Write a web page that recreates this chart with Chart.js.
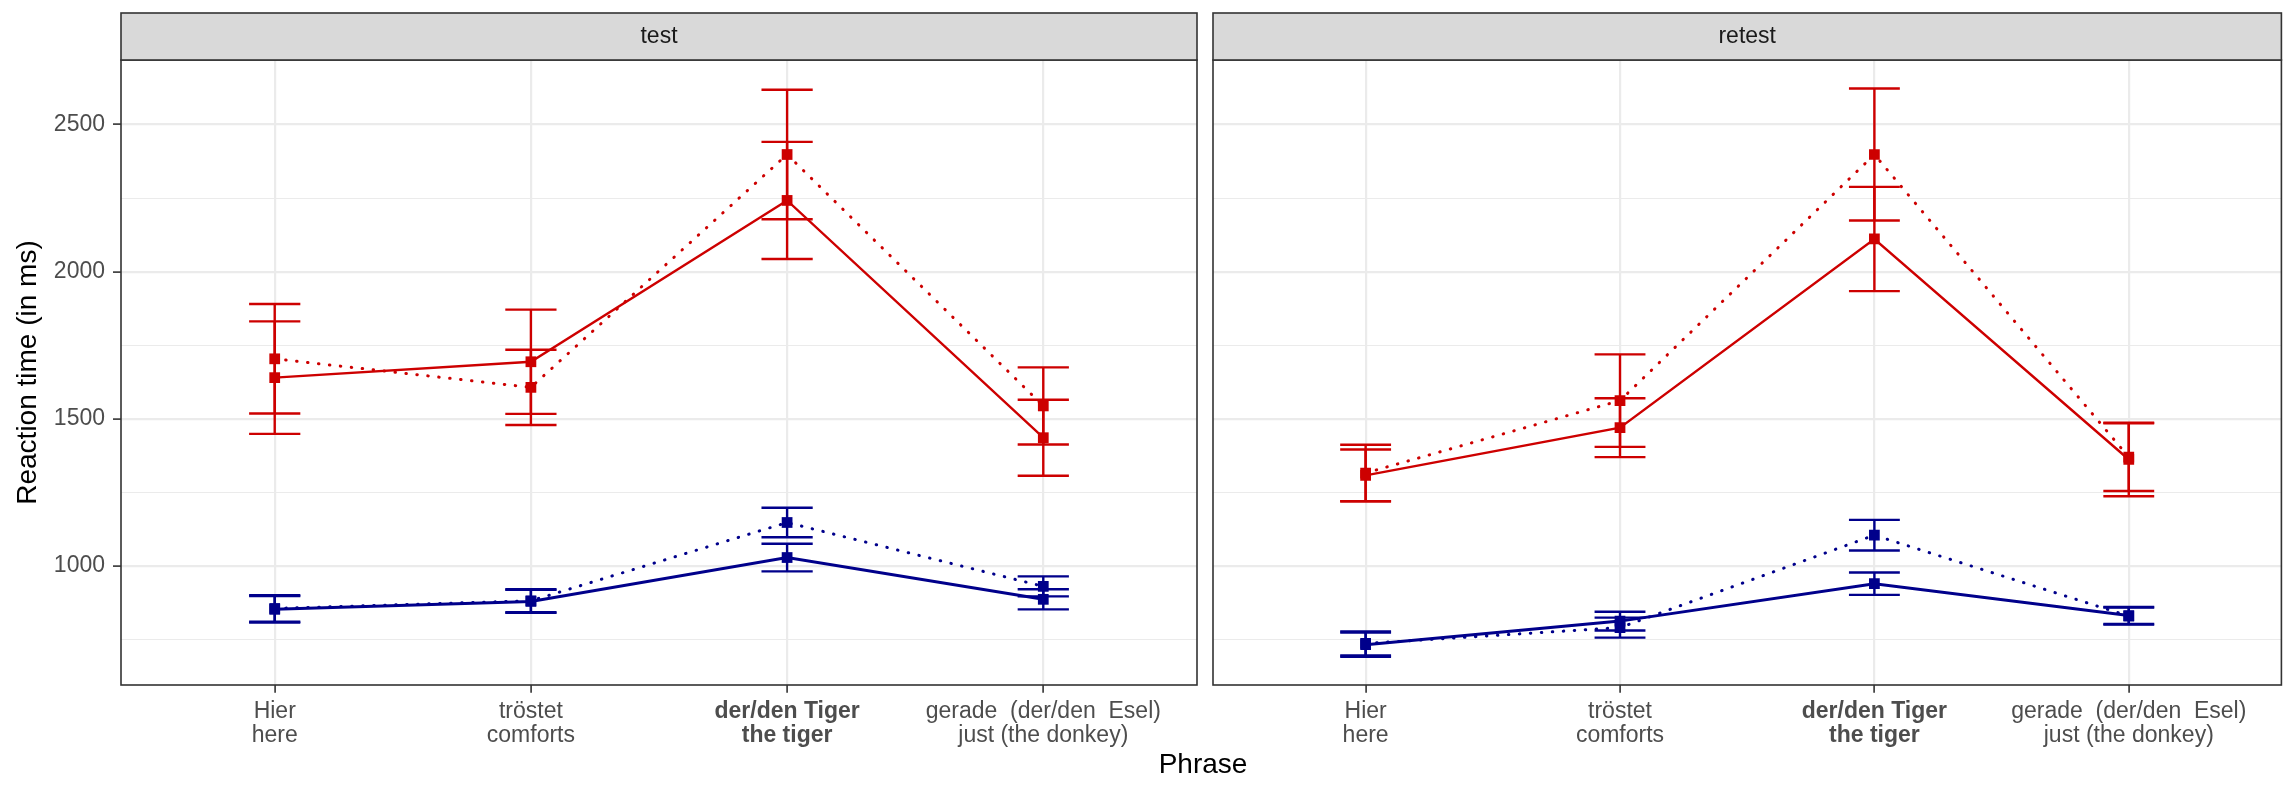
<!DOCTYPE html>
<html>
<head>
<meta charset="utf-8">
<script src="https://cdn.jsdelivr.net/npm/chart.js@4.4.1/dist/chart.umd.min.js"></script>
<style>
  html, body { margin: 0; padding: 0; background: #fff; overflow: hidden; }
  #wrap { position: relative; width: 2285px; height: 786px; overflow: hidden; }
  #wrap canvas { position: absolute; top: 0; }
  #x-title {
    position: absolute; left: 1053px; width: 300px; top: 750px;
    text-align: center; font: 28px 'Liberation Sans', Arial, sans-serif;
    line-height: 28px; color: #000;
  }
</style>
</head>
<body>
<div id="wrap">
  <canvas id="chart-test" width="1205" height="786" style="left:0"></canvas>
  <canvas id="chart-retest" width="1084" height="786" style="left:1205px"></canvas>
  <div id="x-title">Phrase</div>
</div>
<script>
// categories / tick labels
const phraseLabels = [['Hier', 'here'], ['tröstet', 'comforts'], ['der/den Tiger', 'the tiger'], ['gerade  (der/den  Esel)', 'just (the donkey)']];
const phrasePos = [1, 2, 3, 4];
const yTickValues = [750, 1000, 1250, 1500, 1750, 2000, 2250, 2500];
const panelNames = ['test', 'retest'];

// test session: means and error bar half widths (ms)
const testRedSolid = [1640, 1694, 2242, 1436];
const testRedSolidErr = [191, 177, 199, 129];
const testRedDotted = [1704, 1607, 2398, 1544];
const testRedDottedErr = [186, 128, 220, 131];
const testBlueSolid = [853, 880, 1029, 887];
const testBlueSolidErr = [45, 39, 47, 34];
const testBlueDotted = [856, 882, 1148, 931];
const testBlueDottedErr = [45, 39, 50, 34];

// retest session
const retestRedSolid = [1308, 1470, 2111, 1362];
const retestRedSolidErr = [88, 100, 177, 125];
const retestRedDotted = [1316, 1562, 2398, 1370];
const retestRedDottedErr = [96, 157, 224, 115];
const retestBlueSolid = [733, 813, 940, 832];
const retestBlueSolidErr = [41, 32, 38, 29];
const retestBlueDotted = [737, 791, 1105, 830];
const retestBlueDottedErr = [41, 34, 52, 29];

const RED = '#CD0000';
const BLUE = '#00008B';

Chart.defaults.font.family = "'Liberation Sans', Arial, sans-serif";

function make_dataset(values, err, color, dotted) {
    return {
        data: values.map((v, i) => ({ x: phrasePos[i], y: v })),
        err: err,
        borderColor: color,
        backgroundColor: color,
        borderWidth: dotted ? 3 : (color === BLUE ? 3 : 2.4),
        borderDash: dotted ? [0.5, 10.5] : [],
        borderCapStyle: dotted ? 'round' : 'butt',
        tension: 0,
        pointStyle: 'rect',
        pointRadius: 7.6,
        pointBorderWidth: 0,
        pointBackgroundColor: color,
    };
}

// strip, panel border and error bars
const panelPlugin = {
    id: 'panel',
    afterDatasetsDraw(chart) {
        const { ctx, scales: { x, y } } = chart;
        chart.data.datasets.forEach(ds => {
            ctx.save();
            ctx.strokeStyle = ds.borderColor;
            ctx.lineWidth = 2.4;
            ds.data.forEach((p, i) => {
                const px = x.getPixelForValue(p.x);
                const left = x.getPixelForValue(p.x - 0.1);
                const right = x.getPixelForValue(p.x + 0.1);
                const lo = y.getPixelForValue(p.y - ds.err[i]);
                const hi = y.getPixelForValue(p.y + ds.err[i]);
                ctx.beginPath();
                ctx.moveTo(px, lo); ctx.lineTo(px, hi);
                ctx.moveTo(left, lo); ctx.lineTo(right, lo);
                ctx.moveTo(left, hi); ctx.lineTo(right, hi);
                ctx.stroke();
            });
            ctx.restore();
        });
    },
    afterDraw(chart, args, opts) {
        const { ctx, chartArea: a } = chart;
        ctx.save();
        ctx.lineWidth = 1.6;
        ctx.strokeStyle = '#333333';
        ctx.strokeRect(a.left, a.top, a.right - a.left, a.bottom - a.top);
        ctx.fillStyle = '#D9D9D9';
        ctx.fillRect(a.left, 13, a.right - a.left, a.top - 13);
        ctx.strokeRect(a.left, 13, a.right - a.left, a.top - 13);
        ctx.fillStyle = '#1A1A1A';
        ctx.font = "23px 'Liberation Sans', Arial, sans-serif";
        ctx.textAlign = 'center';
        ctx.textBaseline = 'middle';
        ctx.fillText(opts.title, (a.left + a.right) / 2, (13 + a.top) / 2);
        ctx.restore();
    }
};

function make_chart(canvasId, title, datasets, showY) {
    return new Chart(document.getElementById(canvasId), {
        type: 'line',
        data: { datasets: datasets },
        plugins: [panelPlugin],
        options: {
            responsive: false,
            animation: false,
            devicePixelRatio: 1,
            layout: { padding: { top: 60, left: showY ? 0 : 8, right: showY ? 8 : 0, bottom: 0 } },
            plugins: {
                legend: { display: false },
                tooltip: { enabled: false },
                panel: { title: title }
            },
            scales: {
                x: {
                    type: 'linear',
                    min: 0.4,
                    max: 4.6,
                    afterBuildTicks: s => { s.ticks = phrasePos.map(v => ({ value: v })); },
                    afterFit: s => { s.height = 101; },
                    ticks: {
                        autoSkip: false,
                        maxRotation: 0,
                        padding: 7,
                        color: '#4D4D4D',
                        font: c => ({ size: 23, lineHeight: 1.05, weight: c.index === 2 ? 'bold' : 'normal' }),
                        callback: (v, i) => phraseLabels[i]
                    },
                    grid: {
                        color: '#EBEBEB',
                        lineWidth: 2.2,
                        tickLength: 7.7,
                        tickColor: '#333333',
                        tickWidth: 1.6
                    },
                    border: { display: false }
                },
                y: {
                    min: 596,
                    max: 2719,
                    afterBuildTicks: s => { s.ticks = yTickValues.map(v => ({ value: v })); },
                    afterFit: s => { s.width = showY ? 121 : 0; },
                    title: {
                        display: showY,
                        text: 'Reaction time (in ms)',
                        color: '#000000',
                        font: { size: 28 },
                        padding: { top: 11, bottom: 0 }
                    },
                    ticks: {
                        display: showY,
                        autoSkip: false,
                        padding: 8,
                        color: '#4D4D4D',
                        font: { size: 23 },
                        callback: v => (v % 500 === 0 ? String(v) : '')
                    },
                    grid: {
                        color: '#EBEBEB',
                        lineWidth: c => (c.tick && c.tick.value % 500 === 0 ? 2.2 : 1.1),
                        drawTicks: showY,
                        tickLength: 8,
                        tickColor: c => (c.tick && c.tick.value % 500 === 0 ? '#333333' : 'rgba(0,0,0,0)'),
                        tickWidth: 1.6
                    },
                    border: { display: false }
                }
            }
        }
    });
}

make_chart('chart-test', panelNames[0], [
    make_dataset(testRedSolid, testRedSolidErr, RED, false),
    make_dataset(testRedDotted, testRedDottedErr, RED, true),
    make_dataset(testBlueSolid, testBlueSolidErr, BLUE, false),
    make_dataset(testBlueDotted, testBlueDottedErr, BLUE, true),
], true);

make_chart('chart-retest', panelNames[1], [
    make_dataset(retestRedSolid, retestRedSolidErr, RED, false),
    make_dataset(retestRedDotted, retestRedDottedErr, RED, true),
    make_dataset(retestBlueSolid, retestBlueSolidErr, BLUE, false),
    make_dataset(retestBlueDotted, retestBlueDottedErr, BLUE, true),
], false);
</script>
</body>
</html>
